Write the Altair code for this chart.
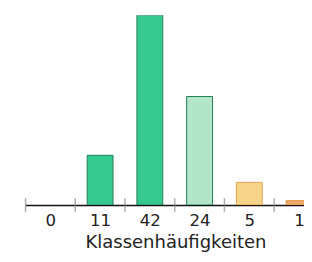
import altair as alt
import pandas as pd

classes = [0, 1, 2, 3, 4, 5]
counts = [0, 11, 42, 24, 5, 1]
labels = ["0", "11", "42", "24", "5", "1"]
boundaries = [0, 1, 2, 3, 4, 5]
fills = ["transparent", "#35c98f", "#35c98f", "#b3e5c8", "#f6d58a", "#eea866"]
strokes = ["transparent", "#1f7d52", "#1f7d52", "#1f7d52", "#e2a24a", "#e09a55"]

bars = pd.DataFrame({
    "cls": [str(c) for c in classes],
    "start": [c + 0.24 for c in classes],
    "end": [c + 0.76 for c in classes],
    "count": counts,
})
ticks = pd.DataFrame({"b": boundaries, "zero": [0] * len(boundaries)})

xscale = alt.Scale(domain=[0, 5.6], nice=False, zero=False)
yscale = alt.Scale(domain=[0, 42], nice=False)

label_expr = "[" + ",".join("'" + l + "'" for l in labels) + "][floor(datum.value)]"

bar_layer = alt.Chart(bars).mark_bar(clip=True, strokeWidth=1).encode(
    x=alt.X("start:Q", scale=xscale,
            axis=alt.Axis(values=[c + 0.5 for c in classes], labelExpr=label_expr,
                          ticks=False, tickSize=0, grid=False, domain=True,
                          domainColor="#111111", domainWidth=1.5,
                          labelFont="DejaVu Sans", labelFontSize=17, labelColor="#222222",
                          labelPadding=8, labelFlush=False,
                          title="Klassenhäufigkeiten", titleFont="DejaVu Sans",
                          titleFontSize=18.5, titleFontWeight="normal", titleColor="#222222",
                          titlePadding=5, titleX=154)),
    x2="end:Q",
    y=alt.Y("count:Q", scale=yscale, axis=None),
    y2=alt.datum(0),
    fill=alt.Fill("cls:N", scale=alt.Scale(domain=[str(c) for c in classes], range=fills), legend=None),
    stroke=alt.Stroke("cls:N", scale=alt.Scale(domain=[str(c) for c in classes], range=strokes), legend=None),
)

tick_layer = alt.Chart(ticks).mark_tick(color="#8a8a8a", thickness=1.5, size=14, orient="vertical").encode(
    x=alt.X("b:Q", scale=xscale),
    y=alt.Y("zero:Q", scale=yscale),
)

chart = alt.layer(bar_layer, tick_layer).properties(
    width=286, height=195,
    autosize=alt.AutoSizeParams(type="none"),
    padding={"left": 18, "top": 4, "right": 0, "bottom": 47},
).configure_view(stroke=None)

chart.save("out.html", embed_options={"renderer": "svg", "actions": False})
